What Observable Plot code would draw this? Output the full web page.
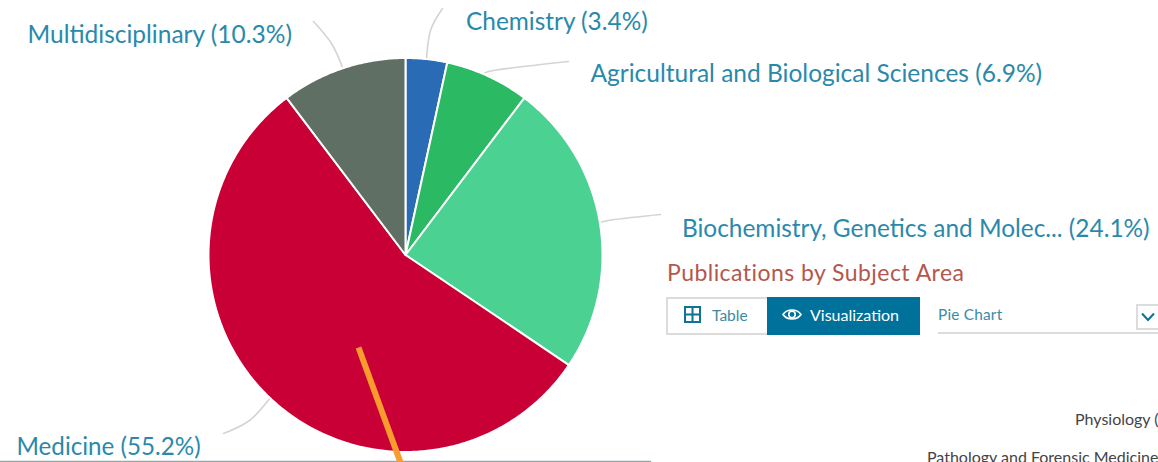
<!DOCTYPE html>
<html><head><meta charset="utf-8">
<style>
html,body{margin:0;padding:0;background:#fff;width:1158px;height:462px;overflow:hidden}
#wrap{position:relative;width:1158px;height:462px;overflow:hidden;font-family:Lato,sans-serif}
#chart svg{display:block}
.ui{position:absolute;white-space:nowrap;box-sizing:border-box}
</style>
<script src="https://cdn.jsdelivr.net/npm/d3@7"></script>
<script src="https://cdn.jsdelivr.net/npm/@observablehq/plot@0.6"></script>
</head><body>
<div id="wrap">
<div id="chart"></div>
<div class="ui" style="left:667px;top:257px;font-size:23px;letter-spacing:.45px;line-height:30px;color:#b3574e">Publications by Subject Area</div>
<div class="ui" style="left:666px;top:297px;width:102px;height:38px;border:2px solid #dcdcdc;border-right:none;background:#fff"></div>
<svg class="ui" style="left:684px;top:306px" width="17" height="17" viewBox="0 0 17 17"><rect x="1" y="1" width="15" height="15" fill="none" stroke="#0f7396" stroke-width="2"/><path d="M8.5 1V16M1 8.5H16" stroke="#0f7396" stroke-width="2"/></svg>
<div class="ui" style="left:712px;top:305px;font-size:15.5px;line-height:20px;color:#3d8aa6">Table</div>
<div class="ui" style="left:767px;top:297px;width:153px;height:38px;background:#00719a"></div>
<svg class="ui" style="left:782px;top:306px" width="20" height="17" viewBox="0 0 20 17"><path d="M1 8.5C5 2.5 15 2.5 19 8.5C15 14.5 5 14.5 1 8.5Z" fill="none" stroke="#fff" stroke-width="1.6"/><circle cx="10" cy="8.5" r="3.2" fill="none" stroke="#fff" stroke-width="1.6"/></svg>
<div class="ui" style="left:810px;top:305px;font-size:16px;line-height:20px;color:#fff">Visualization</div>
<div class="ui" style="left:938px;top:304px;font-size:15.4px;line-height:20px;letter-spacing:.2px;color:#3d8aa6">Pie Chart</div>
<div class="ui" style="left:938px;top:332px;width:220px;height:2px;background:#dcdcdc"></div>
<div class="ui" style="left:1136px;top:304px;width:30px;height:26px;border:2px solid #dcdcdc;background:#fff"></div>
<svg class="ui" style="left:1141px;top:312px" width="14" height="10" viewBox="0 0 14 10"><path d="M1 1.5L7 8L13 1.5" fill="none" stroke="#0f7396" stroke-width="2"/></svg>
<div class="ui" style="left:1075px;top:409px;font-size:16px;line-height:20px;color:#444">Physiology (</div>
<div class="ui" style="left:927px;top:447px;font-size:16px;line-height:20px;color:#444">Pathology and Forensic Medicine</div>
</div>
<script>
const subjects = ["Chemistry", "Agricultural and Biological Sciences", "Biochemistry, Genetics and Molec...", "Medicine", "Multidisciplinary"];
const shares = [3.4, 6.9, 24.1, 55.2, 10.3];
const colors = ["#2a6bb5", "#2bb964", "#4bd192", "#c90035", "#5f6f64"];

// Layout of the picture (page pixels)
const cx = 405, cy = 254.5, radius = 197;
const labelX = [465.5, 590, 681.5, 16, 27];
const labelY = [22, 74, 229, 447, 35];
const labelSize = [24.4, 24.5, 24.4, 24.2, 24.5];
const leaderMid = [[430, 30], [493, 70], [614, 219], [249, 420], [331, 43]];
const leaderEnd = [[442, 8], [568, 61], [660, 214], [223, 433], [313, 21]];
const pointer = [[358, 347], [400, 462]];
const baseline = [[0, 461], [650, 461]];

const total = d3.sum(shares);
let acc = 0;
const slices = subjects.map((name, i) => {
  const a0 = acc / total * 2 * Math.PI;
  acc += shares[i];
  const a1 = acc / total * 2 * Math.PI;
  return {name, i, a0, a1, mid: (a0 + a1) / 2};
});
const polar = (a, r) => [cx + r * Math.sin(a), cy - r * Math.cos(a)];

const slicePts = slices.flatMap(s => {
  const n = Math.ceil((s.a1 - s.a0) / 0.01);
  const pts = [[cx, cy]];
  for (let k = 0; k <= n; k++) pts.push(polar(s.a0 + (s.a1 - s.a0) * k / n, radius));
  pts.push([cx, cy]);
  return pts.map(p => ({name: s.name, color: colors[s.i], x: p[0], y: p[1]}));
});
const leaderPts = slices.flatMap(s => [polar(s.mid, radius), leaderMid[s.i], leaderEnd[s.i]]
  .map(p => ({name: s.name, x: p[0], y: p[1]})));
const labels = slices.map(s => ({
  text: `${s.name} (${shares[s.i]}%)`, x: labelX[s.i], y: labelY[s.i], size: labelSize[s.i]
}));

const plot = Plot.plot({
  width: 1158, height: 462,
  margin: 0, marginTop: 0, marginRight: 0, marginBottom: 0, marginLeft: 0,
  x: {domain: [0, 1158], range: [0, 1158], axis: null},
  y: {domain: [0, 462], range: [0, 462], axis: null},
  style: {background: "#fff", fontFamily: "Lato, sans-serif"},
  marks: [
    Plot.line(leaderPts, {x: "x", y: "y", z: "name", stroke: "#d4d4d4", strokeWidth: 1.6, curve: "natural"}),
    Plot.line(slicePts, {x: "x", y: "y", z: "name", fill: "color", stroke: "#fff", strokeWidth: 2, curve: "linear", strokeLinejoin: "round"}),
    Plot.text(labels, {x: "x", y: "y", text: "text", textAnchor: "start", lineAnchor: "middle", fontSize: "size", fill: "#2a89ab"}),
    Plot.line(baseline, {x: d => d[0], y: d => d[1], stroke: "#9aa6a6", strokeWidth: 1.5}),
    Plot.line(pointer, {x: d => d[0], y: d => d[1], stroke: "#f99b2d", strokeWidth: 6, strokeLinecap: "butt"})
  ]
});
document.getElementById("chart").appendChild(plot);
</script>
</body></html>
